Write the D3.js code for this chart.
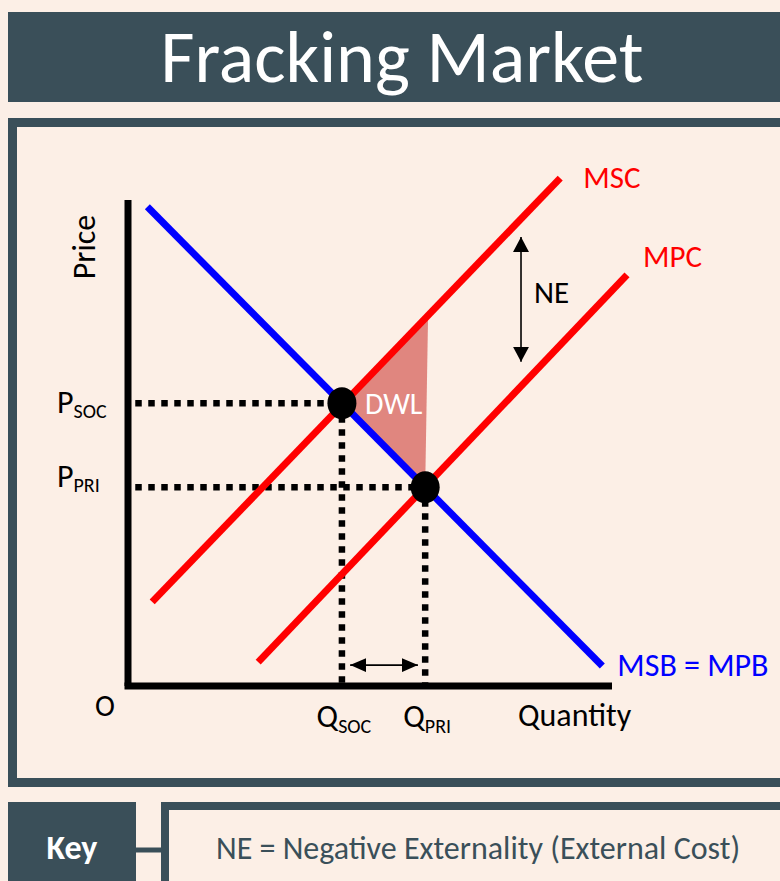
<!DOCTYPE html>
<html>
<head>
<meta charset="utf-8">
<script src="https://cdn.jsdelivr.net/npm/d3@7"></script>
<style>
  html, body { margin: 0; padding: 0; background: #fcefe6; }
  svg { display: block; }
  text { font-family: Carlito, Lato, "Open Sans", sans-serif; }
</style>
</head>
<body>
<svg id="chart" width="780" height="881"></svg>
<script>
// ---- Data (quantity / price in model units, 0–100) ----
const titleText = "Fracking Market";
const keyLabel = "Key";
const keyText = "NE = Negative Externality (External Cost)";

const qDomain = [0, 100];
const pDomain = [0, 100];

// Curves: two end points each
const curveNames = ["MSB = MPB", "MSC", "MPC"];
const msbQ = [4, 98];
const msbP = [98.6, 4.1];
const mscQ = [5, 89.3];
const mscP = [17.3, 104.5];
const mpcQ = [26.9, 103.1];
const mpcP = [4.9, 84.6];

// Equilibria: social optimum and private market
const eqNames = ["SOC", "PRI"];
const eqQ = [44.2, 61.4];
const eqP = [58.2, 40.9];

// External-cost arrow (between MSC and MPC) and quantity gap arrow
const neQ = 81.2;
const neP = [66.7, 92.4];
const gapP = 4.3;
const gapQ = [45.9, 59.9];

// ---- Layout ----
const svg = d3.select("#chart");
const C = { bg: "#fcefe6", dark: "#3a4f59", red: "#ff0000", blue: "#0000ff", dwl: "#e0867f" };
const FS = 31;    // label font size
const SUB = 20;   // subscript font size

const x = d3.scaleLinear().domain(qDomain).range([128, 612]);
const y = d3.scaleLinear().domain(pDomain).range([686, 200]);

// Title banner
svg.append("rect").attr("x", 8).attr("y", 12).attr("width", 790).attr("height", 90).attr("fill", C.dark);
svg.append("text").attr("x", 402).attr("y", 82).attr("text-anchor", "middle")
  .attr("fill", "#fff").attr("font-size", 74).text(titleText);

// Chart frame
svg.append("rect").attr("x", 12.5).attr("y", 122.5).attr("width", 790).attr("height", 660)
  .attr("fill", C.bg).attr("stroke", C.dark).attr("stroke-width", 9);

// Key boxes
svg.append("rect").attr("x", 8).attr("y", 802).attr("width", 128).attr("height", 90).attr("fill", C.dark);
svg.append("text").attr("x", 72).attr("y", 859).attr("text-anchor", "middle")
  .attr("fill", "#fff").attr("font-size", 34).attr("font-weight", "bold").text(keyLabel);
svg.append("line").attr("x1", 136).attr("x2", 165).attr("y1", 850).attr("y2", 850)
  .attr("stroke", C.dark).attr("stroke-width", 5);
svg.append("rect").attr("x", 165).attr("y", 806).attr("width", 640).attr("height", 90)
  .attr("fill", C.bg).attr("stroke", C.dark).attr("stroke-width", 8);
svg.append("text").attr("x", 216).attr("y", 859)
  .attr("fill", C.dark).attr("font-size", 32).text(keyText);

const g = svg.append("g");

// Deadweight-loss triangle: social point, MSC at private quantity, private point
const mscAt = q => d3.scaleLinear().domain(mscQ).range(mscP)(q);
const dwl = [[eqQ[0], eqP[0]], [eqQ[1] + 0.6, mscAt(eqQ[1] + 0.6)], [eqQ[1], eqP[1]]];
g.append("path")
  .attr("d", d3.line().x(d => x(d[0])).y(d => y(d[1]))(dwl) + "Z")
  .attr("fill", C.dwl);

// Dotted guide lines from each equilibrium to the axes
const guides = [];
eqQ.forEach((q, i) => {
  guides.push([[1.5, eqP[i]], [q, eqP[i]]]);
  guides.push([[q, eqP[i]], [q, 0]]);
});
g.selectAll(".guide").data(guides).join("line").attr("class", "guide")
  .attr("x1", d => x(d[0][0])).attr("y1", d => y(d[0][1]))
  .attr("x2", d => x(d[1][0])).attr("y2", d => y(d[1][1]))
  .attr("stroke", "#000").attr("stroke-width", 6.5).attr("stroke-dasharray", "6.5,6.5");

// Curves
const curves = [
  { name: curveNames[0], q: msbQ, p: msbP, color: C.blue },
  { name: curveNames[1], q: mscQ, p: mscP, color: C.red },
  { name: curveNames[2], q: mpcQ, p: mpcP, color: C.red }
];
g.selectAll(".curve").data(curves).join("line").attr("class", "curve")
  .attr("x1", d => x(d.q[0])).attr("y1", d => y(d.p[0]))
  .attr("x2", d => x(d.q[1])).attr("y2", d => y(d.p[1]))
  .attr("stroke", d => d.color).attr("stroke-width", 7);

// Curve labels
const labelPos = [
  { i: 0, dx: 15, dy: 10, fs: FS + 1 },
  { i: 1, dx: 23, dy: 10, fs: FS },
  { i: 2, dx: 16, dy: -8, fs: FS }
];
labelPos.forEach(l => {
  const c = curves[l.i];
  g.append("text").attr("x", x(c.q[1]) + l.dx).attr("y", y(c.p[1]) + l.dy)
    .attr("fill", c.color).attr("font-size", l.fs).text(c.name);
});

// Axes (no ticks)
const xAxis = d3.axisBottom(x).tickValues([]).tickSizeOuter(0);
const yAxis = d3.axisLeft(y).tickValues([]).tickSizeOuter(0);
g.append("g").attr("transform", `translate(0,${y(0)})`).call(xAxis)
  .select(".domain").attr("stroke", "#000").attr("stroke-width", 7)
  .attr("d", `M${x(0) - 3.5},0H${x(100)}`);
g.append("g").attr("transform", `translate(${x(0)},0)`).call(yAxis)
  .select(".domain").attr("stroke", "#000").attr("stroke-width", 7)
  .attr("d", `M0,${y(0)}V${y(100)}`);

// Equilibrium points
g.selectAll(".eq").data(eqQ).join("ellipse").attr("class", "eq")
  .attr("cx", d => x(d)).attr("cy", (d, i) => y(eqP[i]))
  .attr("rx", 14.5).attr("ry", 16).attr("fill", "#000");

// Arrow markers
const defs = svg.append("defs");
function marker(id, w, h) {
  defs.append("marker").attr("id", id).attr("viewBox", `0 0 ${w} ${h}`)
    .attr("refX", w).attr("refY", h / 2).attr("markerWidth", w).attr("markerHeight", h)
    .attr("markerUnits", "userSpaceOnUse").attr("orient", "auto-start-reverse")
    .append("path").attr("d", `M0,0L${w},${h / 2}L0,${h}Z`).attr("fill", "#000");
}
marker("arrNE", 15, 16);
marker("arrQ", 16, 14);

g.append("line").attr("x1", x(neQ)).attr("x2", x(neQ)).attr("y1", y(neP[0])).attr("y2", y(neP[1]))
  .attr("stroke", "#000").attr("stroke-width", 1.6)
  .attr("marker-start", "url(#arrNE)").attr("marker-end", "url(#arrNE)");
g.append("text").attr("x", x(neQ) + 13).attr("y", 303).attr("font-size", FS).text("NE");

g.append("line").attr("x1", x(gapQ[0])).attr("x2", x(gapQ[1])).attr("y1", y(gapP)).attr("y2", y(gapP))
  .attr("stroke", "#000").attr("stroke-width", 1.6)
  .attr("marker-start", "url(#arrQ)").attr("marker-end", "url(#arrQ)");

// DWL label
g.append("text").attr("x", x(eqQ[0]) + 23).attr("y", 414).attr("fill", "#fff")
  .attr("font-size", 30).text("DWL");

// Axis titles
g.append("text").attr("transform", "translate(95,247) rotate(-90)").attr("text-anchor", "middle")
  .attr("font-size", 32).text("Price");
g.append("text").attr("x", 518).attr("y", 726).attr("font-size", FS + 1).text("Quantity");
g.append("text").attr("x", 95).attr("y", 716).attr("font-size", 30).text("O");

// Price labels with subscripts
const pBase = [413, 487];
eqNames.forEach((n, i) => {
  const t = g.append("text").attr("x", 57).attr("y", pBase[i]).attr("font-size", FS + 1);
  t.append("tspan").text("P");
  t.append("tspan").attr("font-size", SUB).attr("dy", 5).text(n);
});
// Quantity labels with subscripts
eqNames.forEach((n, i) => {
  const t = g.append("text").attr("x", x(eqQ[i]) + 2).attr("y", 727)
    .attr("text-anchor", "middle").attr("font-size", FS + 1);
  t.append("tspan").text("Q");
  t.append("tspan").attr("font-size", SUB).attr("dy", 6).text(n);
});
</script>
</body>
</html>
